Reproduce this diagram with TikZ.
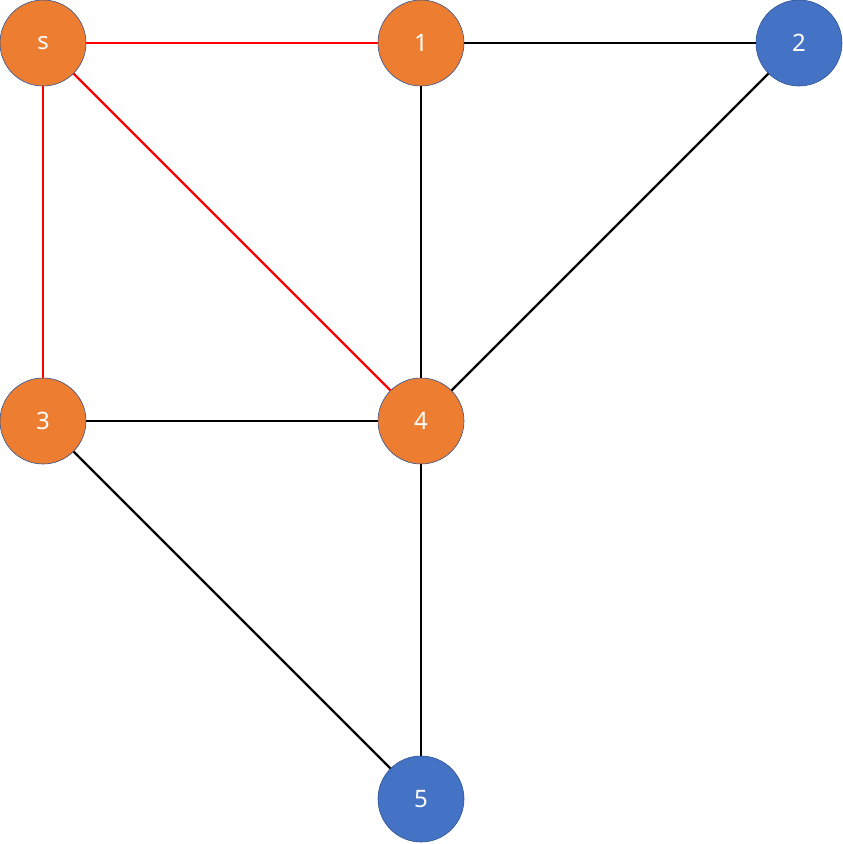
\documentclass[tikz,border=0pt]{standalone}
\usepackage{fontspec}
\setmainfont{Noto Sans}
\definecolor{org}{HTML}{ED7D31}
\definecolor{blu}{HTML}{4472C4}
\definecolor{edg}{HTML}{2F528F}
\begin{document}
\begin{tikzpicture}[x=1pt,y=-1pt,
  v/.style={circle,minimum size=86pt,inner sep=0pt,draw=edg,line width=0.6pt,text=white,font=\fontsize{24}{28}\selectfont},
  o/.style={v,fill=org}, b/.style={v,fill=blu},
  e/.style={line width=2.2pt,black}, r/.style={line width=2.2pt,red}]
\useasboundingbox (0,0) rectangle (843,844);
\node[o] (s) at (43,43) {s};
\node[o] (n1) at (421,43) {1};
\node[b] (n2) at (799,43) {2};
\node[o] (n3) at (43,421) {3};
\node[o] (n4) at (421,421) {4};
\node[b] (n5) at (421,799) {5};
\begin{scope}[on background layer/.style={}]
\end{scope}
\draw[r] (s) -- (n1);
\draw[r] (s) -- (n3);
\draw[r] (s) -- (n4);
\draw[e] (n1) -- (n2);
\draw[e] (n1) -- (n4);
\draw[e] (n2) -- (n4);
\draw[e] (n3) -- (n4);
\draw[e] (n3) -- (n5);
\draw[e] (n4) -- (n5);
\end{tikzpicture}
\end{document}
